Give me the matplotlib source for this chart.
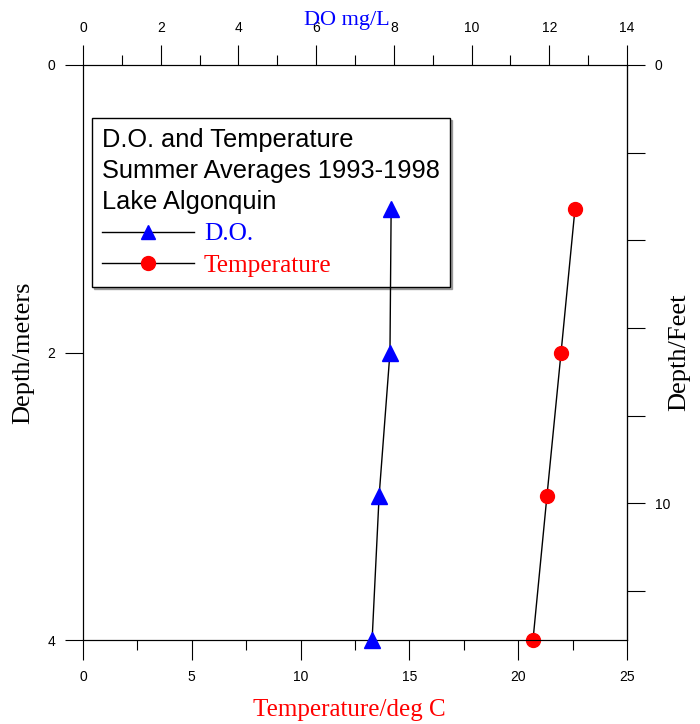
import matplotlib.pyplot as plt
from matplotlib.lines import Line2D
from matplotlib.ticker import FixedLocator, MultipleLocator

# depth in meters, DO in mg/L, temperature in deg C
depth = [1, 2, 3, 4]
do_mgl = [7.93, 7.90, 7.62, 7.44]
temp_c = [22.61, 21.97, 21.32, 20.68]

feet_ticks = [0, 2, 4, 6, 8, 10, 12]
feet_labels = ['0', '', '', '', '', '10', '']

sans = 'Liberation Sans'
serif = 'Liberation Serif'
plt.rcParams['font.family'] = sans
plt.rcParams['font.size'] = 10

fig = plt.figure(figsize=(7, 7.24), dpi=100)
ax = fig.add_axes([83/700, 1 - 640/724, 544/700, 575/724])

ax.plot(temp_c, depth, color='black', lw=1, marker='o', ms=10,
        mfc='red', mec='red', zorder=3, clip_on=False)
ax.set_xlim(0, 25)
ax.set_ylim(4, 0)
ax.xaxis.set_major_locator(MultipleLocator(5))
ax.xaxis.set_minor_locator(MultipleLocator(2.5))
ax.yaxis.set_major_locator(FixedLocator([0, 2, 4]))
ax.tick_params(axis='x', which='major', direction='out', length=14.4, width=0.8, pad=7)
ax.tick_params(axis='x', which='minor', direction='out', length=7.2, width=0.8)
ax.tick_params(axis='y', which='major', direction='out', length=13, width=0.8, pad=7, right=False)

ax.set_xlabel('Temperature/deg C', family=serif, size=18, color='red')
ax.xaxis.set_label_coords(0.49, -0.103)
ax.set_ylabel('Depth/meters', family=serif, size=19)
ax.yaxis.set_label_coords(-0.09, 0.5)

handles = [
    Line2D([], [], color='black', lw=1, marker='^', ms=10, mfc='blue', mec='blue'),
    Line2D([], [], color='black', lw=1, marker='o', ms=10, mfc='red', mec='red'),
]
leg = ax.legend(handles, ['D.O.', 'Temperature'],
                title='D.O. and Temperature\nSummer Averages 1993-1998\nLake Algonquin',
                loc='upper left', bbox_to_anchor=(9/544, (640-118)/575), borderaxespad=0,
                prop={'family': serif, 'size': 18.3},
                title_fontproperties={'family': sans, 'size': 18.3},
                labelcolor=['blue', 'red'], alignment='left',
                fancybox=False, edgecolor='black', framealpha=1,
                handlelength=3.6, handletextpad=0.4, borderpad=0.4, labelspacing=0.33,
                shadow={'color': 'gray', 'alpha': 0.7, 'ox': 1.5, 'oy': -1.5})
leg.get_frame().set_linewidth(1)
leg.get_title().set_linespacing(1.37)

ax2 = ax.twiny()
ax2.plot(do_mgl, depth, color='black', lw=1, marker='^', ms=11,
         mfc='blue', mec='blue', zorder=3, clip_on=False)
ax2.set_xlim(0, 14)
ax2.xaxis.set_major_locator(MultipleLocator(2))
ax2.xaxis.set_minor_locator(MultipleLocator(1))
ax2.tick_params(axis='x', which='major', direction='out', length=14.4, width=0.8, pad=7)
ax2.tick_params(axis='x', which='minor', direction='out', length=7.2, width=0.8)
ax2.set_xlabel('DO mg/L', family=serif, size=16, color='blue')
ax2.xaxis.set_label_coords(0.485, 1.069)

secy = ax.secondary_yaxis('right', functions=(lambda m: m * 3.28084, lambda f: f / 3.28084))
secy.yaxis.set_major_locator(FixedLocator(feet_ticks))
secy.set_yticklabels(feet_labels)
secy.tick_params(axis='y', direction='out', length=13, width=0.8, pad=7)
secy.set_ylabel('Depth/Feet', family=serif, size=19)
secy.yaxis.set_label_coords(1.075, 0.5, transform=ax.transAxes)

fig.savefig('out.png', dpi=100)
